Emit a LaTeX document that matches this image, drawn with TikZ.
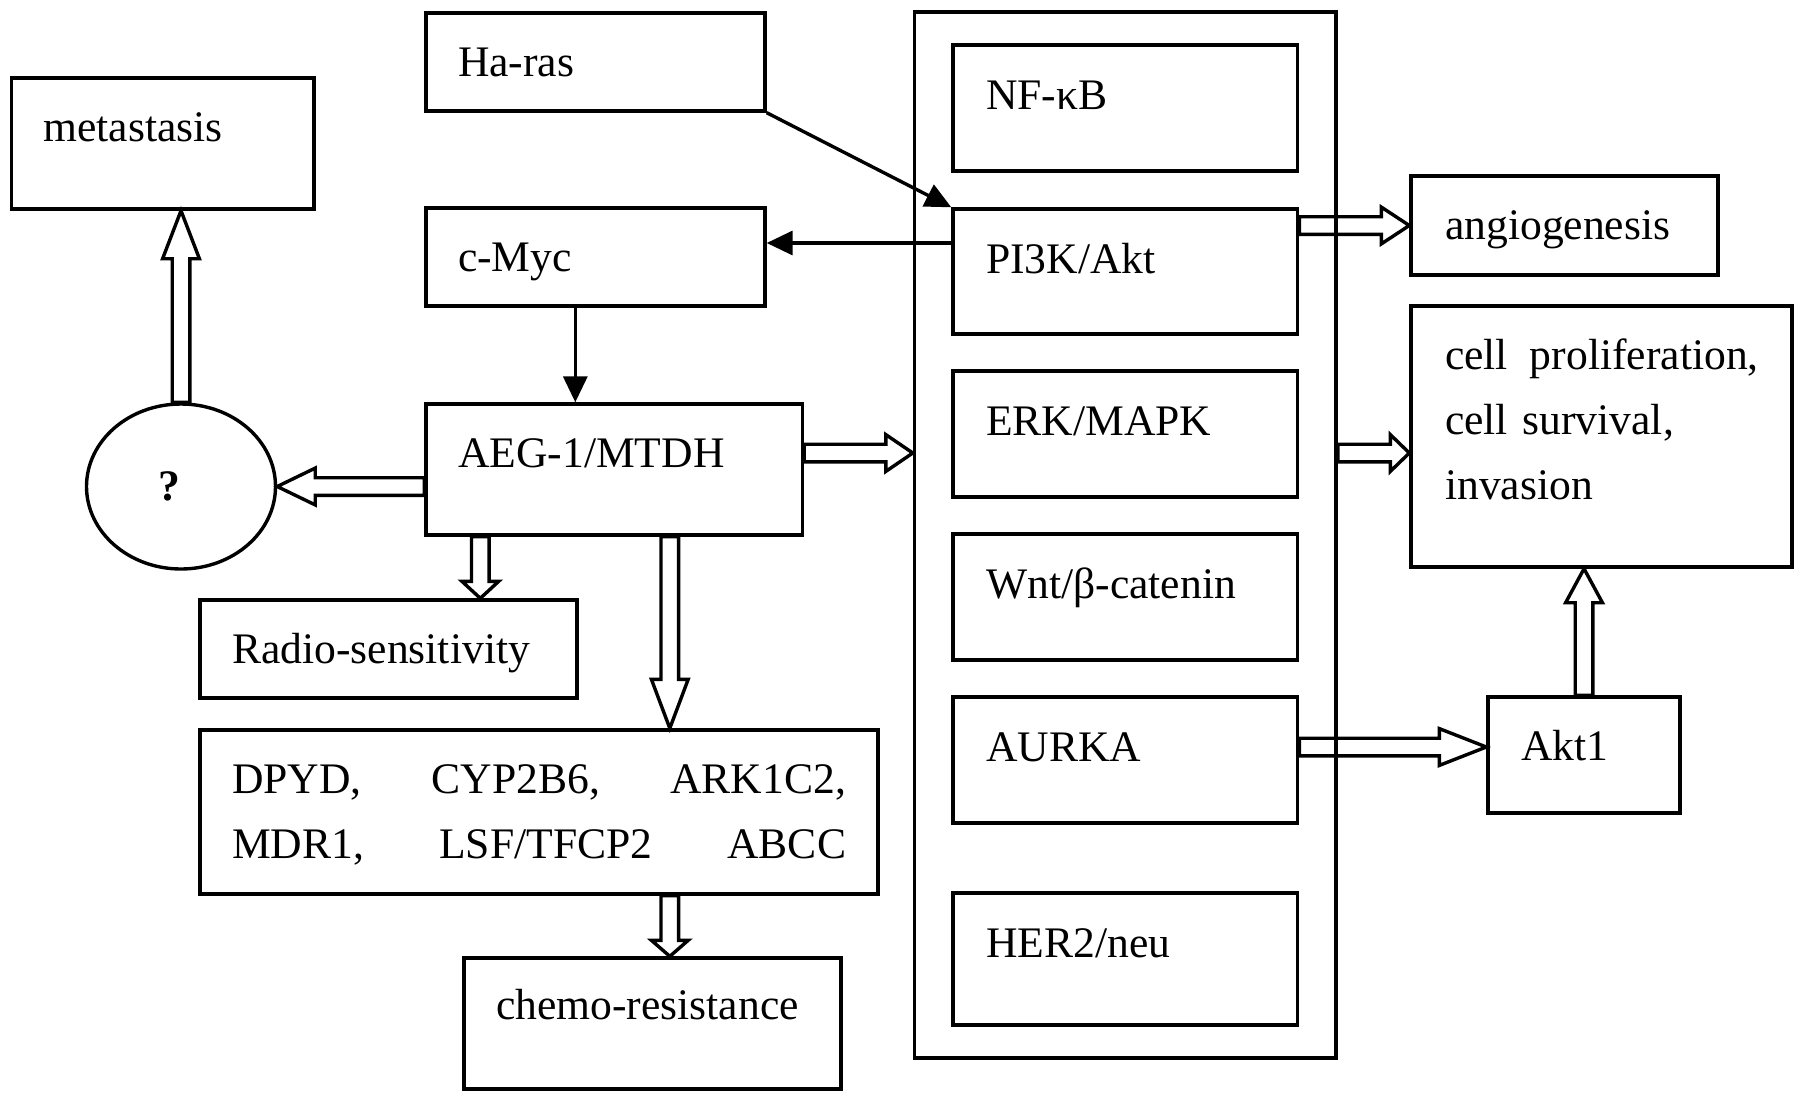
\documentclass[tikz,border=0pt]{standalone}
\usepackage{fontspec}
\setmainfont{Liberation Serif}
\usetikzlibrary{positioning,fit,calc,shapes.geometric,arrows.meta}

\tikzset{
  box/.style={draw, line width=0.85pt, inner sep=0pt},
  txt/.style={anchor=base west, inner sep=0pt, font=\fontsize{10.9}{16.25}\selectfont},
  fat/.style={line width=0.85pt, to path={
      ($(\tikztotarget)!#1!(\tikztostart)$) coordinate (hb)
      ($(\tikztostart)!2.2pt!90:(\tikztotarget)$) -- ($(hb)!2.2pt!-90:(\tikztostart)$)
      -- ($(hb)!4.6pt!-90:(\tikztostart)$) -- (\tikztotarget)
      -- ($(hb)!4.6pt!90:(\tikztostart)$) -- ($(hb)!2.2pt!90:(\tikztostart)$)
      -- ($(\tikztostart)!2.2pt!-90:(\tikztotarget)$) -- cycle}},
  fat/.default=7pt,
  push/.style={line width=0.85pt, -{Triangle[length=6.5pt,width=6pt]}}
}

\begin{document}
\begin{tikzpicture}[x=0.25pt, y=-0.25pt]
\useasboundingbox (0,0) rectangle (1795,1103);

\node[box, fit={(11.5,78) (314,209)}] (meta) {};
\node[box, fit={(426,13) (765,111)}] (haras) {};
\node[box, fit={(426,208) (765,306)}] (cmyc) {};
\node[box, fit={(426,404) (802.5,535)}] (aeg) {};
\node[draw, ellipse, line width=0.85pt, inner sep=0pt, minimum width=47.25pt, minimum height=41.25pt] (q) at (181,486.5) {\fontsize{10.9}{13}\selectfont\textbf{?}\kern6pt\relax};
\node[box, fit={(200,600) (577,698)}] (radio) {};
\node[box, fit={(200,730) (878,894)}] (drugs) {};
\node[box, fit={(464,958) (841,1089)}] (chemo) {};

\node[box, fit={(953,45) (1297.6,171)}] (nfkb) {};
\node[box, fit={(953,209) (1297.6,334)}] (pi3k) {};
\node[box, fit={(953,371) (1297.6,497)}] (erk) {};
\node[box, fit={(953,534) (1297.6,660)}] (wnt) {};
\node[box, fit={(953,697) (1297.6,823)}] (aurka) {};
\node[box, fit={(953,893) (1297.6,1025)}] (her2) {};
\node[box, fit=(nfkb) (her2), inner xsep=9.2pt, inner ysep=7.8pt] (sig) {};

\node[box, fit={(1411,176) (1718,275)}] (angio) {};
\node[box, fit={(1411,306) (1792,567)}] (cell) {};
\node[box, fit={(1488,697) (1680,813)}] (akt) {};

\node[txt] at ([shift={(33,65)}]meta.north west) {metastasis};
\node[txt] at ([shift={(33,65)}]haras.north west) {Ha-ras};
\node[txt] at ([shift={(33,65)}]cmyc.north west) {c-Myc};
\node[txt] at ([shift={(33,65)}]aeg.north west) {AEG-1/MTDH};
\node[txt] at ([shift={(33,65)}]radio.north west) {Radio-sensitivity};
\node[txt, text width=153.5pt, align=left] at ([shift={(33,65)}]drugs.north west) {DPYD,\hfill CYP2B6,\hfill ARK1C2,\\MDR1,\hfill LSF/TFCP2\hfill ABCC};
\node[txt] at ([shift={(33,63)}]chemo.north west) {chemo-resistance};
\node[txt] at ([shift={(34,66)}]nfkb.north west) {NF-κB};
\node[txt] at ([shift={(34,66)}]pi3k.north west) {PI3K/Akt};
\node[txt] at ([shift={(34,66)}]erk.north west) {ERK/MAPK};
\node[txt] at ([shift={(34,66)}]wnt.north west) {Wnt/β-catenin};
\node[txt] at ([shift={(34,66)}]aurka.north west) {AURKA};
\node[txt] at ([shift={(34,66)}]her2.north west) {HER2/neu};
\node[txt] at ([shift={(35,65)}]angio.north west) {angiogenesis};
\node[txt, text width=86pt, align=left] at ([shift={(35,65)}]cell.north west) {cell\enspace proliferation,\\cell survival,\\invasion};
\node[txt] at ([shift={(34,65)}]akt.north west) {Akt1};

\coordinate (mid) at ([shift={(0,-16.5)}]aeg.east);
\coordinate (k) at ([shift={(0,-8)}]akt.west);
\coordinate (r) at ([shift={(56,0)}]aeg.south west);
\coordinate (d) at ([shift={(245.5,0)}]aeg.south west);
\coordinate (m) at ([shift={(0,-14)}]cmyc.east);
\coordinate (c) at ([shift={(151,0)}]cmyc.south west);

\draw[push] (haras.south east) -- (pi3k.north west);
\draw[push] (m -| pi3k.west) -- (m);
\draw[push] (c) -- (c |- aeg.north);

\draw[fat=12pt] (q.north) to (meta.south -| q.north);
\draw[fat=9.5pt] (aeg.west |- q.east) to (q.east);
\draw[fat=6.75pt] (mid) to (mid -| sig.west);
\draw[fat=4.75pt] (mid -| sig.east) to (mid -| cell.west);
\draw[fat] (pi3k.east |- angio.west) to (angio.west);
\draw[fat=11.75pt] (k -| aurka.east) to (k);
\draw[fat=8.5pt] (akt.north) to (akt.north |- cell.south);
\draw[fat=4.25pt] (r) to (r |- radio.north);
\draw[fat=12.25pt] (d) to (d |- drugs.north);
\draw[fat=4pt] (d |- drugs.south) to (d |- chemo.north);
\end{tikzpicture}
\end{document}
